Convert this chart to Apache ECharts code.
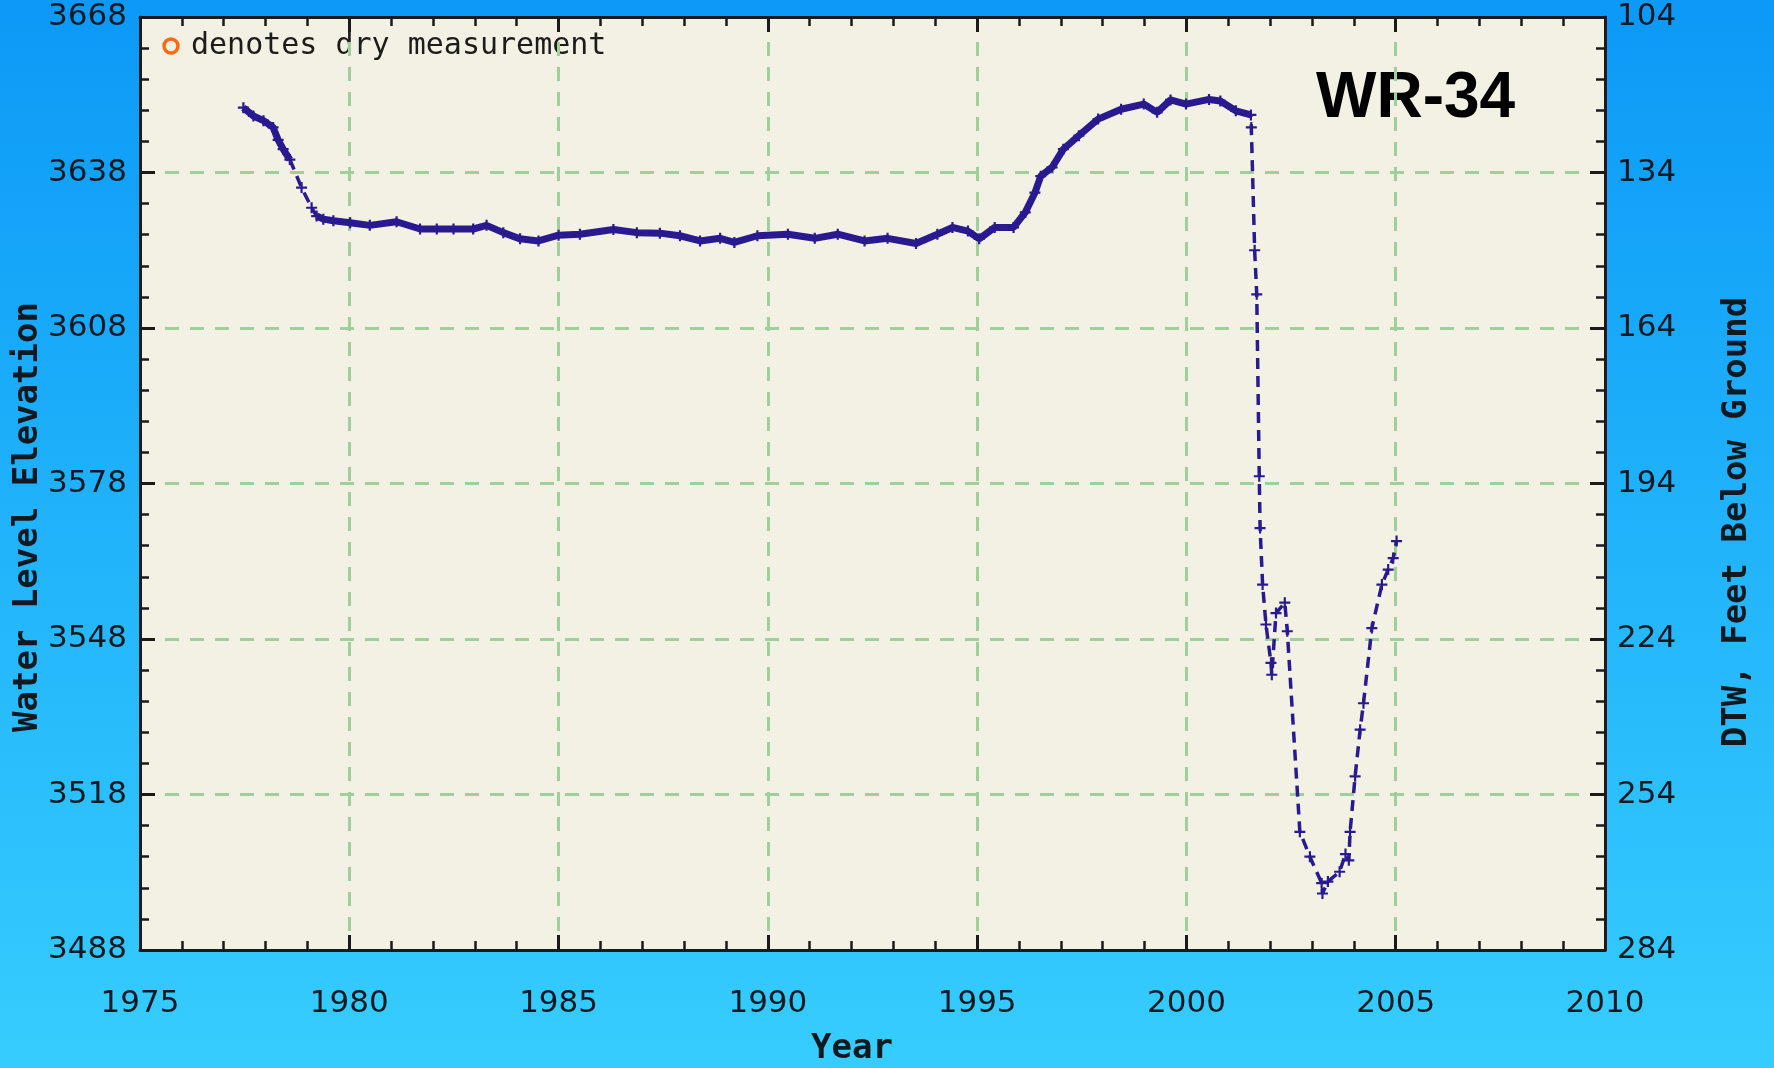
<!DOCTYPE html>
<html>
<head>
<meta charset="utf-8">
<title>WR-34</title>
<script src="https://cdn.jsdelivr.net/npm/echarts@6/dist/echarts.min.js"></script>
<style>
  html, body { margin: 0; padding: 0; }
  #chart { width: 1774px; height: 1068px; }
</style>
</head>
<body>
<div id="chart"></div>
<script>
// measurement dates (decimal year) and water level elevation (ft)
const years = [
  1977.47, 1977.71, 1977.95, 1978.18, 1978.30, 1978.42, 1978.58, 1978.86, 1979.10, 1979.22,
  1979.38, 1979.62, 1980.02, 1980.49, 1981.13, 1981.69, 1982.09, 1982.49, 1982.96, 1983.28,
  1983.68, 1984.08, 1984.52, 1985.00, 1985.51, 1986.31, 1986.87, 1987.42, 1987.90, 1988.38,
  1988.86, 1989.20, 1989.75, 1990.48, 1991.12, 1991.67, 1992.31, 1992.86, 1993.54, 1994.05,
  1994.41, 1994.78, 1995.05, 1995.42, 1995.87, 1996.15, 1996.38, 1996.52, 1996.79, 1997.06,
  1997.43, 1997.89, 1998.44, 1998.98, 1999.30, 1999.62, 1999.99, 2000.54, 2000.81, 2001.18,
  2001.54, 2001.55, 2001.63, 2001.68, 2001.74, 2001.76, 2001.82, 2001.90, 2002.02, 2002.04,
  2002.14, 2002.35, 2002.41, 2002.71, 2002.95, 2003.23, 2003.25, 2003.38, 2003.66, 2003.80,
  2003.88, 2003.91, 2004.03, 2004.15, 2004.23, 2004.43, 2004.67, 2004.82, 2004.94, 2005.02
]
const levels = [
  3650.5, 3648.9, 3648.0, 3646.7, 3644.3, 3642.5, 3640.5, 3635.1, 3631.2, 3629.6,
  3629.0, 3628.7, 3628.3, 3627.8, 3628.5, 3627.1, 3627.1, 3627.1, 3627.1, 3627.8,
  3626.4, 3625.2, 3624.8, 3625.9, 3626.1, 3627.0, 3626.4, 3626.3, 3625.8, 3624.8,
  3625.3, 3624.5, 3625.8, 3626.1, 3625.3, 3626.1, 3624.8, 3625.3, 3624.3, 3626.1,
  3627.4, 3626.7, 3625.2, 3627.4, 3627.4, 3630.3, 3634.1, 3637.3, 3639.0, 3642.5,
  3645.1, 3648.3, 3650.2, 3651.2, 3649.6, 3652.0, 3651.2, 3652.1, 3651.8, 3649.9,
  3649.1, 3646.7, 3623.0, 3614.5, 3579.4, 3569.4, 3558.5, 3550.8, 3543.4, 3541.1,
  3553.0, 3555.0, 3549.5, 3510.8, 3506.0, 3500.9, 3498.9, 3501.2, 3503.1, 3506.5,
  3505.3, 3510.8, 3521.5, 3530.5, 3535.6, 3550.1, 3558.5, 3561.4, 3563.6, 3566.9
]

const xTicks = [1975, 2010, 5]          // min, max, step
const elevTicks = [3488, 3668, 30]
const dtwTicks = [104, 284, 30]

// periods with frequent readings (drawn as a solid band)
const denseSpans = [[1977.4, 1978.6], [1979.2, 2001.545]]

const navy = '#2a1a90'
const plus = 'path://M4,0H6V4H10V6H6V10H4V6H0V4H4Z'

const allPts = years.map((y, i) => [y, levels[i]])
const densePts = []
denseSpans.forEach((s, k) => {
  if (k > 0) densePts.push([s[0], '-'])
  allPts.forEach(p => { if (p[0] >= s[0] && p[0] <= s[1]) densePts.push(p) })
})

const plain = v => String(v)
const labelFont = { fontFamily: 'DejaVu Sans', fontSize: 31, color: '#101820', formatter: plain }
const nameFont = 'bold 34px "DejaVu Sans Mono"'

const tickStyle = { show: true, inside: true, length: 15, lineStyle: { color: '#1a1a1a', width: 3 } }
const minorStyle = { show: true, splitNumber: 5, length: 9, lineStyle: { color: '#1a1a1a', width: 2.5 } }
const frameLine = { show: true, onZero: false, lineStyle: { color: '#1a1a1a', width: 3 } }
const gridDash = { show: true, lineStyle: { color: '#9fcf9a', width: 3, type: [14, 11] } }

const chart = echarts.init(document.getElementById('chart'))
const option = {
  animation: false,
  backgroundColor: new echarts.graphic.LinearGradient(0, 0, 0, 1, [
    { offset: 0, color: '#0c99f7' },
    { offset: 1, color: '#36cdfe' }
  ]),
  grid: {
    left: 140, right: 169, top: 17, bottom: 118,
    show: true, backgroundColor: '#f3f1e3', borderWidth: 0
  },
  xAxis: [
    {
      type: 'value', position: 'bottom',
      min: xTicks[0], max: xTicks[1], interval: xTicks[2],
      axisLine: frameLine, axisTick: tickStyle, minorTick: minorStyle,
      axisLabel: Object.assign({ margin: 38 }, labelFont),
      splitLine: gridDash
    },
    {
      type: 'value', position: 'top',
      min: xTicks[0], max: xTicks[1], interval: xTicks[2],
      axisLine: frameLine, axisTick: tickStyle, minorTick: minorStyle,
      axisLabel: { show: false }, splitLine: { show: false }
    }
  ],
  yAxis: [
    {
      type: 'value', position: 'left',
      min: elevTicks[0], max: elevTicks[1], interval: elevTicks[2],
      axisLine: frameLine, axisTick: tickStyle, minorTick: minorStyle,
      axisLabel: Object.assign({ margin: 13, padding: [14, 0, 0, 0] }, labelFont),
      splitLine: gridDash
    },
    {
      type: 'value', position: 'right', inverse: true,
      min: dtwTicks[0], max: dtwTicks[1], interval: dtwTicks[2],
      axisLine: frameLine, axisTick: tickStyle, minorTick: minorStyle,
      axisLabel: Object.assign({ margin: 12, padding: [14, 0, 0, 0] }, labelFont),
      splitLine: { show: false }
    }
  ],
  series: [
    {
      name: 'dense',
      type: 'line',
      data: densePts,
      showSymbol: false,
      connectNulls: false,
      lineStyle: { color: navy, width: 7 },
      z: 3
    },
    {
      name: 'WR-34',
      type: 'line',
      data: allPts,
      symbol: plus,
      symbolSize: 11,
      itemStyle: { color: navy },
      lineStyle: { color: navy, width: 3.5, type: [11, 7] },
      z: 4
    }
  ],
  graphic: [
    {
      type: 'text', x: 1316, y: 99,
      style: { text: 'WR-34', font: 'bold 64px "Liberation Sans"', fill: '#000', verticalAlign: 'middle' }
    },
    {
      type: 'circle', shape: { cx: 171, cy: 46, r: 7 },
      style: { fill: 'none', stroke: '#ff6a13', lineWidth: 3.5 }
    },
    {
      type: 'text', x: 191, y: 46,
      style: { text: 'denotes dry measurement', font: '30px "DejaVu Sans Mono"', fill: '#1c1c1c', verticalAlign: 'middle' }
    },
    {
      type: 'text', x: 28, y: 517, rotation: Math.PI / 2,
      style: { text: 'Water Level Elevation', font: nameFont, fill: '#101820', align: 'center', verticalAlign: 'middle' }
    },
    {
      type: 'text', x: 1737, y: 522, rotation: Math.PI / 2,
      style: { text: 'DTW, Feet Below Ground', font: nameFont, fill: '#101820', align: 'center', verticalAlign: 'middle' }
    },
    {
      type: 'text', x: 852, y: 1049,
      style: { text: 'Year', font: nameFont, fill: '#101820', align: 'center', verticalAlign: 'middle' }
    }
  ]
}
chart.setOption(option)
window.addEventListener('resize', () => chart.resize())
</script>
</body>
</html>
